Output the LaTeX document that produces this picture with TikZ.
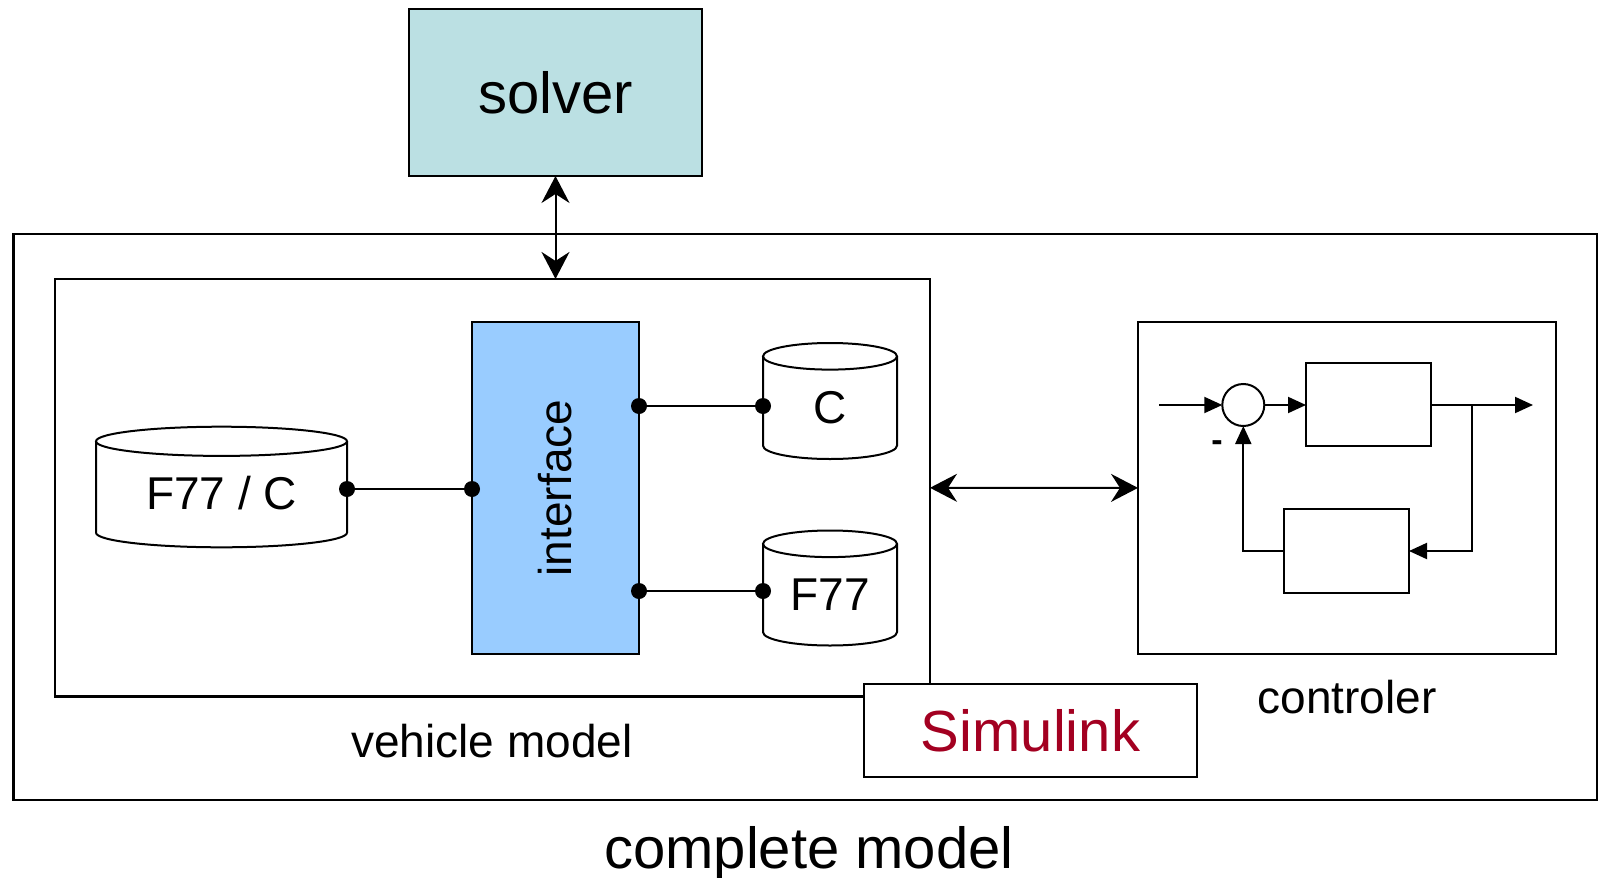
\documentclass[tikz,border=0pt]{standalone}
\usepackage{fontspec}
\setmainfont{Liberation Sans}
\usepackage{graphicx}
\usetikzlibrary{arrows.meta}

\definecolor{solverfill}{RGB}{187,224,227}
\definecolor{ifacefill}{RGB}{153,204,255}
\definecolor{simred}{RGB}{163,0,33}

% outline of a vertical storage drum around a named node:
% #1 node name, #2 half width, #3 vertical radius of the caps
\newcommand\drumshape[3]{%
  \draw[drumline] ([yshift=-#3]#1.north west) -- ([yshift=#3]#1.south west)
     arc[start angle=180, end angle=360, x radius=#2, y radius=#3]
     -- ([yshift=-#3]#1.north east);
  \draw[drumline] ([yshift=-#3]#1.north) ellipse[x radius=#2, y radius=#3];
}

\begin{document}
\begin{tikzpicture}[x=1pt, y=-1pt,
  frame/.style={draw, line width=2.5pt, inner sep=0pt, outer sep=0pt},
  block/.style={draw, line width=2pt, inner sep=0pt, outer sep=0pt},
  bigtext/.style={font=\fontsize{58}{60}\selectfont},
  midtext/.style={font=\fontsize{46}{48}\selectfont},
  drumbody/.style={inner sep=0pt, outer sep=0pt, midtext, text height=45pt, text depth=0pt},
  drumline/.style={line width=2pt},
  wire/.style={line width=2pt},
  dot/.style={fill=black},
  sig/.style={line width=2pt, -{Triangle[length=18pt, width=16pt]}},
  dbl/.style={line width=2pt,
    {Stealth[length=27pt, width=28pt, inset=9pt]}-{Stealth[length=27pt, width=28pt, inset=9pt]}},
]
\useasboundingbox (0,0) rectangle (1604,878);

% complete model frame
\node[frame, minimum width=1583.7pt, minimum height=566pt] (complete) at (805.2,517) {};
\node[bigtext] (completelbl) at (809,853) {complete model};

% vehicle model frame
\node[frame, minimum width=875pt, minimum height=417.7pt] (veh) at (492.5,487.8) {};
\node[midtext] (vehlbl) at (492,741) {vehicle model};

% Simulink tag
\node[block, fill=white, bigtext, text=simred, minimum width=333pt, minimum height=93pt] (sim) at (1030.5,730.5) {Simulink};

% controller frame
\node[frame, minimum width=418pt, minimum height=332.3pt] (ctrl) at (1347,487.9) {};
\node[midtext] (ctrllbl) at (1347,697) {controler};

% solver
\node[block, fill=solverfill, bigtext, minimum width=293pt, minimum height=167pt] (solver) at (555.5,92.5) {solver};

% interface
\node[block, fill=ifacefill, midtext, minimum width=167pt, minimum height=332pt] (iface) at (555.5,488) {\rotatebox{90}{interface}};

% code stores
\node[drumbody, minimum width=251pt, minimum height=120.6pt] (fc) at (221.5,487) {F77 / C};
\drumshape{fc}{125.5pt}{14.6pt}
\node[drumbody, minimum width=134pt, minimum height=116pt] (cc) at (830,401) {C};
\drumshape{cc}{67pt}{13.3pt}
\node[drumbody, minimum width=134pt, minimum height=115pt] (ff) at (830,588) {F77};
\drumshape{ff}{67pt}{13.3pt}

% ports and wires
\coordinate (fcport) at ([yshift=-2pt]fc.east);
\coordinate (ccport) at ([yshift=-5pt]cc.west);
\coordinate (ffport) at ([yshift=-3pt]ff.west);
\draw[wire] (fcport) -- (fcport -| iface.west);
\draw[wire] (ccport -| iface.east) -- (ccport);
\draw[wire] (ffport -| iface.east) -- (ffport);
\fill[dot] (fcport) circle[radius=8pt];
\fill[dot] (fcport -| iface.west) circle[radius=8pt];
\fill[dot] (ccport) circle[radius=8pt];
\fill[dot] (ccport -| iface.east) circle[radius=8pt];
\fill[dot] (ffport) circle[radius=8pt];
\fill[dot] (ffport -| iface.east) circle[radius=8pt];

% links between the parts
\draw[dbl] (solver.south) -- (solver.south |- veh.north);
\draw[dbl] (veh.east) -- (ctrl.west);

% feedback loop inside the controller
\node[draw, circle, line width=2pt, minimum size=42pt, inner sep=0pt, outer sep=0pt] (sum) at (1243.3,405) {};
\node[block, minimum width=125pt, minimum height=83pt] (plant) at (1368.5,404.5) {};
\node[block, minimum width=125pt, minimum height=84pt] (fb) at (1346.5,551) {};
\coordinate (uin) at (1159,405);
\coordinate (yout) at (1533,405);
\coordinate (tap) at (1472,405);
\draw[sig] (uin) -- (sum.west);
\draw[sig] (sum.east) -- (sum.east -| plant.west);
\draw[line width=2pt] (plant.east |- yout) -- (tap);
\draw[sig] (tap) -- (yout);
\draw[sig] (tap) |- (fb.east);
\draw[sig] (fb.west) -| (sum.south);
\node[font=\fontsize{34}{34}\selectfont\bfseries] (minus) at (1217,446) {-};
\end{tikzpicture}
\end{document}
